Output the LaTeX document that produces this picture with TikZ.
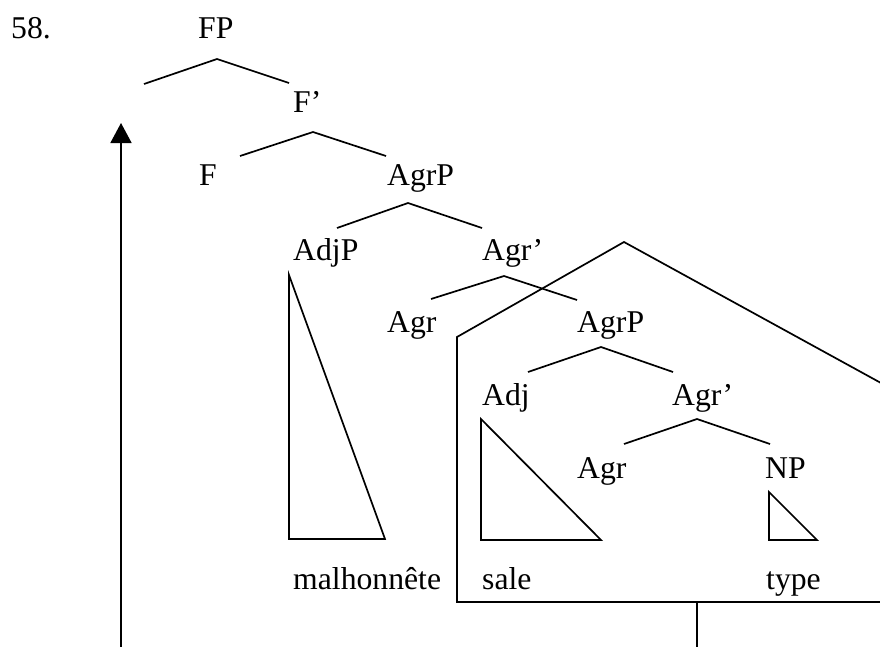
\documentclass[tikz,border=0pt]{standalone}
\usepackage{fontspec}
\setmainfont{Liberation Serif}
\usetikzlibrary{arrows.meta}
\begin{document}
\begin{tikzpicture}[x=1pt,y=-1pt,
  lbl/.style={inner sep=0pt,anchor=base west,font=\fontsize{31.7}{38}\selectfont},
  ln/.style={line width=1.7pt,line join=miter},
]
\useasboundingbox (0,0) rectangle (880,646);
\clip (0,0) rectangle (880,646);
% labels
\node[lbl] (num) at (11,38) {58.};
\node[lbl] (FP) at (198,38) {FP};
\node[lbl] (Fbar) at (293,112) {F’};
\node[lbl] (F) at (199,185) {F};
\node[lbl] (AgrP1) at (387,185) {AgrP};
\node[lbl] (AdjP) at (293,260) {AdjP};
\node[lbl] (Agrbar1) at (482,260) {Agr’};
\node[lbl] (Agr1) at (387,332) {Agr};
\node[lbl] (AgrP2) at (577,332) {AgrP};
\node[lbl] (Adj) at (482,405) {Adj};
\node[lbl] (Agrbar2) at (672,405) {Agr’};
\node[lbl] (Agr2) at (577,478) {Agr};
\node[lbl] (NP) at (765,478) {NP};
\node[lbl] (malh) at (293,589) {malhonnête};
\node[lbl] (sale) at (482,589) {sale};
\node[lbl] (type) at (766,589) {type};
% branch points
\coordinate (a1) at (217,59);  \coordinate (l1) at (144,84);  \coordinate (r1) at (289,83);
\coordinate (a2) at (313,132); \coordinate (l2) at (240,156); \coordinate (r2) at (386,156);
\coordinate (a3) at (408,203); \coordinate (l3) at (337,228); \coordinate (r3) at (482,228);
\coordinate (a4) at (504,276); \coordinate (l4) at (431,299); \coordinate (r4) at (577,300);
\coordinate (a5) at (601,347); \coordinate (l5) at (528,372); \coordinate (r5) at (673,372);
\coordinate (a6) at (697,419); \coordinate (l6) at (624,444); \coordinate (r6) at (770,444);
\draw[ln] (l1) -- (a1) -- (r1);
\draw[ln] (l2) -- (a2) -- (r2);
\draw[ln] (l3) -- (a3) -- (r3);
\draw[ln] (l4) -- (a4) -- (r4);
\draw[ln] (l5) -- (a5) -- (r5);
\draw[ln] (l6) -- (a6) -- (r6);
% triangles
\coordinate (t1) at (289,275); \coordinate (t1b) at (289,539); \coordinate (t1c) at (385,539);
\draw[ln] (t1) -- (t1b) -- (t1c) -- cycle;
\coordinate (t2) at (481,419); \coordinate (t2b) at (481,540); \coordinate (t2c) at (601,540);
\draw[ln] (t2) -- (t2b) -- (t2c) -- cycle;
\coordinate (t3) at (769,492); \coordinate (t3b) at (769,540); \coordinate (t3c) at (817,540);
\draw[ln] (t3) -- (t3b) -- (t3c) -- cycle;
% house
\coordinate (hbl) at (457,602); \coordinate (htl) at (457,337);
\coordinate (hap) at (624,242); \coordinate (htr) at (881,383);
\coordinate (hbr) at (881,602);
\coordinate (stemtop) at (697,602); \coordinate (stembot) at (697,650);
\draw[ln] (hbr) -- (hbl) -- (htl) -- (hap) -- (htr);
\draw[ln] (stemtop) -- (stembot);
% arrow
\coordinate (arrbot) at (121,650); \coordinate (arrtop) at (121,123);
\draw[ln,-{Triangle[width=21pt,length=20pt]}] (arrbot) -- (arrtop);
\end{tikzpicture}
\end{document}
